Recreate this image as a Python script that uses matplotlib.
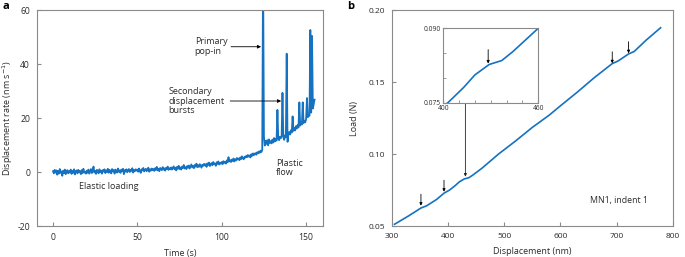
import numpy as np
import matplotlib.pyplot as plt

plt.rcParams["font.family"] = ["Open Sans", "DejaVu Sans"]

# -------------------------------------------------
# data, panel a: displacement rate vs time (0.5 s steps)
# -------------------------------------------------
rate = [
    0.3, -0.5, 0.8, -0.2, 0.6, -1.0, 0.4, -0.6, 1.1, -0.3, 0.2, -1.4, 0.5, -0.4, 0.9, -0.8, 0.1, 0.7, -0.5, 0.3,
    -0.2, 0.9, -0.7, 0.4, -0.3, 1.0, -0.9, 0.2, 0.6, -0.5, 0.8, -0.1, 0.3, -0.8, 0.7, -0.4, 1.2, -0.2, 0.1, -0.6,
    0.5, -0.3, 0.9, -0.6, 0.2, 1.1, -0.4, 0.6, 2.0, -0.2, 0.4, -0.7, 0.8, 0.1, -0.5, 1.0, -0.1, 0.5, -0.6, 0.7,
    0.2, 1.0, -0.4, 0.6, 0.0, 1.2, -0.3, 0.8, 0.3, -0.5, 1.1, 0.2, 0.7, -0.6, 0.9, 0.4, -0.2, 1.3, 0.1, 0.6,
    -0.3, 0.9, 0.3, 1.2, -0.8, 0.7, 0.2, 1.0, -0.1, 0.6, 1.1, 0.0, 0.8, 0.4, 1.4, -0.2, 0.7, 0.3, 1.0, 0.5,
    0.9, 0.1, 1.3, 0.4, -0.3, 1.0, 0.6, 1.5, 0.2, 0.8, 1.2, 0.3, 0.9, 1.6, 0.1, 1.0, 0.5, 1.3, 0.7, 1.1,
    0.4, 1.4, 0.8, 1.9, 0.6, 1.2, 0.3, 1.5, 1.0, 0.7, 1.8, 0.9, 1.3, 0.5, 1.6, 1.1, 2.0, 0.8, 1.4, 1.0,
    1.7, 0.9, 1.5, 2.1, 1.0, 1.6, 0.6, 1.9, 1.2, 2.3, 1.1, 1.7, 0.9, 2.0, 1.5, 2.6, 1.3, 1.8, 1.1, 2.2,
    1.6, 2.4, 1.3, 2.0, 2.8, 1.7, 2.2, 1.4, 2.6, 2.0, 3.1, 1.8, 2.5, 1.9, 2.9, 2.2, 1.6, 2.7, 2.3, 3.0,
    2.4, 2.9, 1.9, 3.2, 2.6, 3.5, 2.2, 2.8, 3.3, 2.5, 3.7, 2.9, 3.1, 2.3, 3.6, 3.0, 3.9, 2.8, 3.4, 3.1,
    3.7, 2.9, 4.0, 3.4, 3.8, 3.1, 4.3, 3.6, 5.5, 3.9, 4.4, 3.7, 4.6, 4.1, 5.0, 3.9, 4.7, 4.3, 5.2, 4.6,
    5.0, 4.4, 5.4, 4.8, 5.8, 5.1, 4.7, 5.6, 5.3, 6.0, 5.5, 6.3, 5.7, 6.1, 5.4, 6.6, 6.0, 6.9, 6.2, 6.7,
    7.0, 6.4, 7.3, 6.9, 7.6, 7.1, 7.9, 7.4, 8.2, 75.0, 13.2, 9.8, 11.5, 10.4, 11.8, 9.9, 12.1, 10.8, 11.4, 10.6,
    12.0, 10.9, 12.6, 11.3, 12.2, 11.6, 23.0, 12.4, 11.8, 13.1, 12.5, 13.4, 29.3, 12.9, 11.9, 13.6, 12.8, 43.8, 11.2, 14.0,
    14.8, 13.9, 15.5, 14.6, 20.6, 15.2, 16.3, 15.4, 17.0, 16.1, 17.4, 16.5, 25.8, 17.2, 18.3, 17.6, 25.8, 18.1, 19.0, 18.4,
    19.6, 27.4, 20.3, 21.2, 20.8, 52.6, 22.0, 50.4, 23.5, 25.2, 26.8,
]
time = np.arange(len(rate)) * 0.5

# -------------------------------------------------
# data, panel b: load vs displacement
# -------------------------------------------------
disp = [305, 330, 352, 362, 380, 393, 403, 413, 420, 429, 437, 444, 460, 490, 520,
        550, 580, 600, 630, 660, 692, 702, 721, 731, 752, 778]
load = [0.0512, 0.0570, 0.0625, 0.0640, 0.0685, 0.0728, 0.0750, 0.0781, 0.0806, 0.0827,
        0.0835, 0.0853, 0.0900, 0.1000, 0.1090, 0.1185, 0.1270, 0.1335, 0.1430, 0.1530,
        0.1628, 0.1645, 0.1695, 0.1712, 0.1790, 0.1877]
burst_x = [352, 393, 692, 721]
burst_y = [0.0641, 0.0738, 0.1630, 0.1700]

blue = "#1572c1"
grey = "#8a8a8a"
txt = "#2b2b2b"


def style(ax, size=6.2):
    for s in ax.spines.values():
        s.set_color(grey)
        s.set_linewidth(0.8)
    ax.tick_params(direction="in", length=3, width=0.8, color=grey,
                   labelsize=size, labelcolor=txt, pad=5)


fig = plt.figure(figsize=(6.85, 2.57), dpi=100)

# -------------------------------------------------
# panel a
# -------------------------------------------------
ax1 = fig.add_axes([0.054, 0.1206, 0.4175, 0.8404])
ax1.plot(time, rate, color=blue, linewidth=1.3)
ax1.set_xlim(-9.5, 160)
ax1.set_ylim(-20, 60)
ax1.set_xticks([0, 50, 100, 150])
ax1.set_yticks([-20, 0, 20, 40, 60])
ax1.set_yticklabels(["-20", "0", "20", "40", "60"])
style(ax1)
ax1.set_xlabel("Time (s)", fontsize=6.5, color=txt, labelpad=5)
ax1.set_ylabel("Displacement rate (nm s$^{-1}$)", fontsize=6.5, color=txt, labelpad=2)

ax1.text(84, 46.4, "Primary\npop-in", fontsize=6.5, color=txt, va="center", linespacing=1.1)
ax1.annotate("", xy=(123.3, 46.4), xytext=(105.5, 46.4),
             arrowprops=dict(arrowstyle="-|>", color="black", lw=0.6,
                             mutation_scale=5, shrinkA=0, shrinkB=0))
ax1.text(68.2, 26.3, "Secondary\ndisplacement\nbursts", fontsize=6.5, color=txt,
         va="center", linespacing=1.1)
ax1.annotate("", xy=(135.2, 26.3), xytext=(105, 26.3),
             arrowprops=dict(arrowstyle="-|>", color="black", lw=0.6,
                             mutation_scale=5, shrinkA=0, shrinkB=0))
ax1.text(15.4, -5.4, "Elastic loading", fontsize=6.5, color=txt, va="center")
ax1.text(132, 1.5, "Plastic\nflow", fontsize=6.5, color=txt, va="center", linespacing=1.1)

fig.text(0.004, 0.975, "a", fontsize=8, fontweight="bold", va="center")

# -------------------------------------------------
# panel b
# -------------------------------------------------
ax2 = fig.add_axes([0.5718, 0.1206, 0.4107, 0.8404])
ax2.plot(disp, load, color=blue, linewidth=1.2)
ax2.set_xlim(300, 800)
ax2.set_ylim(0.05, 0.20)
ax2.set_xticks([300, 400, 500, 600, 700, 800])
ax2.set_yticks([0.05, 0.10, 0.15, 0.20])
ax2.set_yticklabels(["0.05", "0.10", "0.15", "0.20"])
style(ax2, 6)
ax2.set_xlabel("Displacement (nm)", fontsize=6.5, color=txt, labelpad=5)
ax2.set_ylabel("Load (N)", fontsize=6.5, color=txt, labelpad=7)
ax2.text(652, 0.0674, "MN1, indent 1", fontsize=6.3, color=txt, va="center")

for bx, by in zip(burst_x, burst_y):
    ax2.annotate("", xy=(bx, by), xytext=(bx, by + 0.008),
                 arrowprops=dict(arrowstyle="-|>", color="black", lw=0.6,
                                 mutation_scale=4, shrinkA=0, shrinkB=0))
# long arrow from inset down to the curve
ax2.annotate("", xy=(431, 0.0843), xytext=(431, 0.1356),
             arrowprops=dict(arrowstyle="-|>", color="#222222", lw=0.6,
                             mutation_scale=4, shrinkA=0, shrinkB=0))

fig.text(0.507, 0.975, "b", fontsize=8, fontweight="bold", va="center")

# inset
ax3 = fig.add_axes([0.647, 0.6004, 0.1387, 0.2895])
ax3.plot(disp, load, color=blue, linewidth=1.2)
ax3.set_xlim(400, 460)
ax3.set_ylim(0.075, 0.090)
ax3.set_xticks([400, 460])
ax3.set_xticks([410, 420, 430, 440, 450], minor=True)
ax3.set_yticks([0.075, 0.090])
ax3.set_yticks([0.080, 0.085], minor=True)
ax3.set_yticklabels(["0.075", "0.090"])
style(ax3, 4.8)
ax3.tick_params(which="minor", direction="in", length=2.5, width=0.6, color=grey)
ax3.tick_params(pad=2)
ax3.annotate("", xy=(428.4, 0.0829), xytext=(428.4, 0.0857),
             arrowprops=dict(arrowstyle="-|>", color="black", lw=0.6,
                             mutation_scale=4, shrinkA=0, shrinkB=0))

fig.savefig("out.png", dpi=100)
